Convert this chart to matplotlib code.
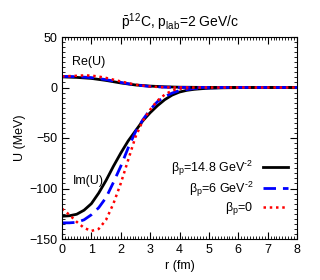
import matplotlib
matplotlib.use("Agg")
import matplotlib.pyplot as plt
from matplotlib.ticker import MultipleLocator

plt.rcParams['font.family'] = ['Liberation Sans', 'DejaVu Sans']
plt.rcParams['mathtext.fontset'] = 'custom'
plt.rcParams['mathtext.rm'] = 'Liberation Sans'
plt.rcParams['mathtext.it'] = 'Liberation Sans'

# Im(U) curves
r_im_a = [0, 0.25, 0.5, 0.75, 1.0, 1.25, 1.5, 1.75, 2.0, 2.25, 2.5, 2.75, 3.0, 3.25, 3.5, 3.75, 4.0, 4.25, 4.5, 4.75, 5.0, 5.5, 6.0, 7.0, 8.0]
im_a = [-127.5, -127, -125.5, -121.5, -115, -104.5, -92, -78, -65, -53, -43, -33, -25, -18, -12, -7.5, -4.5, -2.8, -1.8, -1.2, -0.7, -0.3, -0.1, 0, 0]
r_im_b = [0, 0.25, 0.5, 0.75, 1.0, 1.25, 1.5, 1.75, 2.0, 2.25, 2.5, 2.75, 3.0, 3.25, 3.5, 3.75, 4.0, 4.5, 5.0, 5.5, 6.0, 7.0, 8.0]
im_b = [-134, -134, -133.5, -131, -126, -119, -109, -94, -78, -60, -44, -32, -22, -14, -9, -5.5, -3, -1, -0.4, -0.1, 0, 0, 0]
r_im_c = [0, 0.25, 0.5, 0.75, 1.0, 1.25, 1.5, 1.75, 2.0, 2.25, 2.5, 2.75, 3.0, 3.25, 3.5, 3.75, 4.0, 4.5, 5.0, 6.0, 8.0]
im_c = [-120, -126, -133, -139, -142, -140, -131, -115, -95, -72, -49, -33, -22, -13, -7, -3, -1.2, -0.3, 0, 0, 0]

# Re(U) curves
r_re_a = [0, 0.5, 1.0, 1.5, 2.0, 2.5, 3.0, 3.5, 4.0, 5.0, 8.0]
re_a = [10.5, 10, 9, 7, 4.5, 2.5, 1.4, 0.7, 0.3, 0.05, 0]
r_re_b = [0, 0.5, 1.0, 1.5, 2.0, 2.5, 3.0, 3.5, 4.0, 8.0]
re_b = [11, 10.7, 9.8, 7.8, 5, 2.5, 1.0, 0.3, 0.1, 0]
r_re_c = [0, 0.25, 0.5, 0.75, 1.0, 1.25, 1.5, 2.0, 2.5, 3.0, 3.5, 4.0, 8.0]
re_c = [11, 11.3, 11.6, 12, 11.8, 10.8, 9.5, 6, 2.8, 1.0, 0.2, 0, 0]

labels = [r'$\beta_{\rm p}$=14.8 GeV$^{\text{-2}}$', r'$\beta_{\rm p}$=6 GeV$^{\text{-2}}$', r'$\beta_{\rm p}$=0']

fig = plt.figure(figsize=(3.2, 2.8), dpi=100)
ax = fig.add_axes([62/320, 1-239/280, (297-62)/320, (239-37)/280])

dash_b = (4.5, 2.5)
dot_c = (1, 1.5)
ax.plot(r_im_a, im_a, color='black', lw=2, label=labels[0])
ax.plot(r_im_b, im_b, color='#0000ff', lw=2, dashes=dash_b, label=labels[1])
ax.plot(r_im_c, im_c, color='#ff0000', lw=1.8, dashes=dot_c, label=labels[2])
ax.plot(r_re_a, re_a, color='black', lw=2)
ax.plot(r_re_b, re_b, color='#0000ff', lw=2, dashes=dash_b)
ax.plot(r_re_c, re_c, color='#ff0000', lw=1.8, dashes=dot_c)

ax.set_xlim(0, 8)
ax.set_ylim(-150, 50)
ax.xaxis.set_major_locator(MultipleLocator(1))
ax.xaxis.set_minor_locator(MultipleLocator(0.1))
ax.yaxis.set_major_locator(MultipleLocator(50))
ax.yaxis.set_minor_locator(MultipleLocator(5))
ax.tick_params(which='both', direction='in', top=True, right=True, labelsize=9)
ax.tick_params(which='major', length=5, width=0.8)
ax.tick_params(which='minor', length=2.5, width=0.6)

ax.set_xlabel('r (fm)', fontsize=9, labelpad=3)
ax.set_ylabel('U (MeV)', fontsize=9, labelpad=2)
ax.set_title(r'$\bar{\rm p}^{12}$C, p$_{\rm lab}$=2 GeV/c', fontsize=10, pad=7)

ax.text(0.9, 25, 'Re(U)', fontsize=9, ha='center', va='center')
ax.text(0.9, -93, 'Im(U)', fontsize=9, ha='center', va='center')

leg = ax.legend(loc='lower right', bbox_to_anchor=(1.0, 0.065), frameon=False,
                fontsize=9, markerfirst=False,
                handlelength=2.0, handletextpad=0.8, labelspacing=0.12,
                borderaxespad=0.3)
for t in leg.get_texts():
    t.set_ha('right')

fig.savefig('out.png', dpi=100)
